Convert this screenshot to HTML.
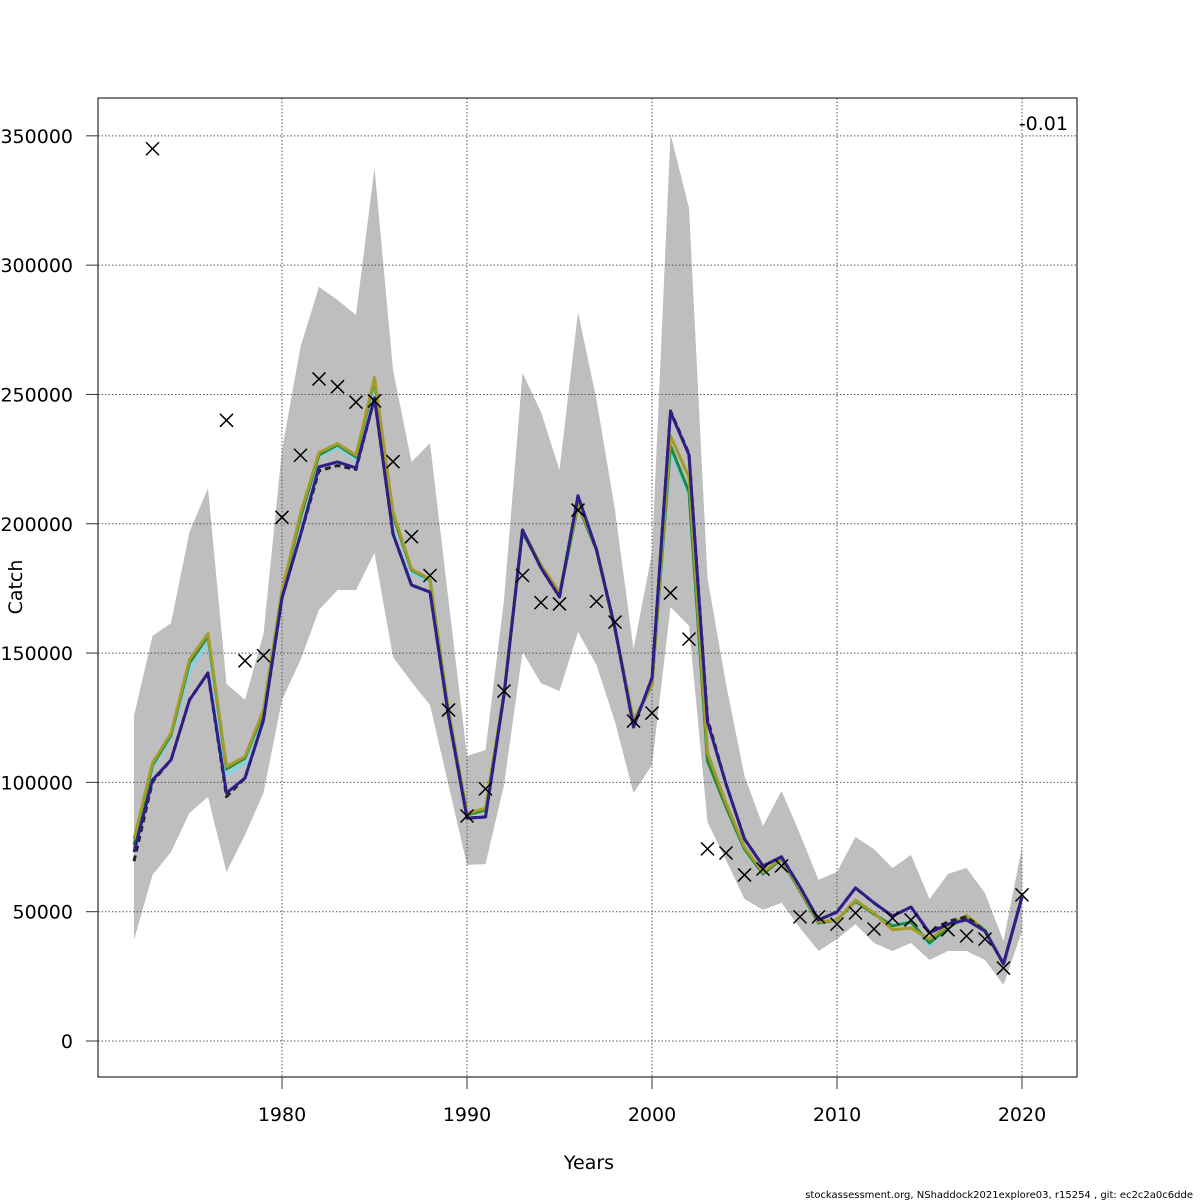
<!DOCTYPE html>
<html><head><meta charset="utf-8"><style>
html,body{margin:0;padding:0;background:#fff;}
svg{display:block;font-family:"DejaVu Sans","Liberation Sans",sans-serif;}
</style></head><body>
<svg id="chart" width="1200" height="1200" viewBox="0 0 1200 1200">
<g id="band"></g>
<g id="grid"></g>
<g id="lines"></g>
<g id="obs"></g>
<rect x="98" y="98" width="979" height="979" fill="none" stroke="#000" stroke-width="1"/>
<g id="axes"></g>
<text x="589" y="1169" font-size="19" text-anchor="middle">Years</text>
<text x="22" y="587" font-size="19" text-anchor="middle" transform="rotate(-90 22 587)">Catch</text>
<text x="1068" y="130" font-size="19" text-anchor="end">-0.01</text>
<text x="1193" y="1198" font-size="10" text-anchor="end">stockassessment.org, NShaddock2021explore03, r15254 , git: ec2c2a0c6dde</text>
</svg>
<script>
const years=[];for(let y=1972;y<=2020;y++)years.push(y);
const obsYears=[1973,1977,1978,1979,1980,1981,1982,1983,1984,1985,1986,1987,1988,1989,1990,1991,1992,1993,1994,1995,1996,1997,1998,1999,2000,2001,2002,2003,2004,2005,2006,2007,2008,2009,2010,2011,2012,2013,2014,2015,2016,2017,2018,2019,2020];
const obsVals=[345,240,147,149,202.5,226.5,256,253,247,247.5,224,195,180,128,87,97.5,135.3,180,169.5,169,205.3,170,162,123.7,126.8,173.2,155.4,74.3,72.7,64.2,66.5,67.7,48,48,45.2,49.5,43.3,47.5,46.8,41.8,43,40.6,39.4,28.2,56.5];
const upper=[125.7,156.6,161.6,196.8,213.8,138.1,131.9,157.4,228.5,268.4,291.6,286.5,280.7,337.6,259.5,223.9,231.2,170.5,110.2,112.5,170.5,258.3,243.2,220.8,281.9,247.9,205.3,151.6,188.7,350.7,322.1,179.0,138.1,102.5,83.1,96.7,80.0,62.3,65.4,78.9,74.2,66.9,71.9,54.9,64.6,66.9,57.2,38.7,75.0];
const lower=[39.1,64.2,73.1,88.2,94.4,65.4,79.7,95.9,131.9,147.3,166.7,174.4,174.4,188.7,148.5,138.8,129.9,99.0,68.1,68.4,99.0,150.4,138.4,135.3,158.2,145.4,123.4,95.9,106.7,167.8,160.5,84.7,70.0,54.9,50.7,53.4,43.7,34.8,39.4,45.2,37.9,34.8,37.9,31.3,34.8,34.8,31.3,21.7,42.5];
const blue=[73.1,100.9,108.7,131.9,142.3,95.9,101.7,124.1,171.3,195.7,222.0,223.9,221.6,248.6,196.1,176.3,173.6,125.7,86.2,86.6,133.8,197.6,182.9,171.7,210.8,189.9,159.7,121.4,140.4,243.2,226.6,123.4,99.4,78.1,67.7,71.2,59.6,46.8,49.9,59.2,53.4,48.3,51.8,41.8,45.2,46.8,42.5,29.8,55.7];
const black=[69.5,100.3,108.7,131.9,142.3,94.5,101.7,124.1,171.3,195.7,220.5,222.5,221.0,248.6,196.1,176.3,173.6,125.7,86.2,86.6,133.8,197.6,182.9,171.7,210.8,189.9,159.7,121.4,140.4,243.6,227.0,124.5,99.4,78.1,67.7,71.2,59.6,46.8,49.9,59.2,53.4,48.3,51.8,41.8,46.2,48.0,42.5,29.8,55.7];
const green=[75.8,106.7,118.3,146.2,156.6,105.2,109.4,127.2,173.6,202.6,226.6,230.5,225.8,255.6,203.4,182.1,178.3,127.2,87.4,89.3,133.8,196.8,183.3,172.5,206.9,189.9,158.9,123.4,137.7,230.1,212.3,108.3,90.5,74.2,64.6,70.4,58.0,45.6,46.8,54.1,49.1,44.5,46.0,37.9,43.7,48.3,42.9,29.8,55.7];
const cyan=[74.5,105.5,117.5,143.0,154.0,103.0,107.5,126.5,173.0,202.0,226.0,229.5,225.0,254.5,203.0,181.0,177.5,127.2,87.4,89.3,133.8,196.8,183.3,172.5,206.9,189.9,158.9,123.4,137.7,228.0,211.0,108.3,90.5,74.2,64.6,70.4,58.0,45.6,46.8,54.1,49.1,45.0,46.0,37.0,44.5,47.5,43.5,29.8,55.7];
const olive=[78.0,107.5,119.0,147.5,157.5,106.0,110.0,128.0,174.0,204.0,227.5,231.0,226.5,256.5,204.5,182.5,178.5,128.0,88.0,90.0,134.5,197.5,184.0,173.5,207.5,190.5,159.5,124.0,137.5,234.0,218.0,111.4,92.0,75.0,65.2,70.8,58.5,46.0,46.8,54.5,49.5,43.0,43.7,39.4,44.5,48.5,42.9,29.8,55.7];
const xTicks=[1980,1990,2000,2010,2020];
const yTicks=[0,50000,100000,150000,200000,250000,300000,350000];
const NS='http://www.w3.org/2000/svg';
const X=y=>282+(y-1980)*18.5;
const Y=v=>1041-v*0.0025862;
const K=v=>Y(v*1000);
function mk(t,a,p){const e=document.createElementNS(NS,t);for(const k in a)e.setAttribute(k,a[k]);p.appendChild(e);return e;}
// band
let pts=years.map((y,i)=>X(y)+','+K(upper[i]));
for(let i=years.length-1;i>=0;i--)pts.push(X(years[i])+','+K(lower[i]));
const poly=mk('polygon',{points:pts.join(' '),fill:'#bebebe',stroke:'none'},document.getElementById('band'));


// grid & axes
const grid=document.getElementById('grid'),axes=document.getElementById('axes');
xTicks.forEach(t=>{
 const l=mk('line',{x1:X(t),x2:X(t),y1:98,y2:1077,stroke:'#555','stroke-width':1,'stroke-dasharray':'1.5,2'},grid);
 
 
 const tk=mk('line',{x1:X(t),x2:X(t),y1:1077,y2:1089,stroke:'#333','stroke-width':1},axes);
 
 
 const tx=mk('text',{x:X(t),y:1121,'font-size':19,'text-anchor':'middle'},axes);
 tx.textContent=t;
 
 
});
yTicks.forEach(t=>{
 const l=mk('line',{x1:98,x2:1077,y1:Y(t),y2:Y(t),stroke:'#555','stroke-width':1,'stroke-dasharray':'1.5,2'},grid);
 
 
 const tk=mk('line',{x1:86,x2:98,y1:Y(t),y2:Y(t),stroke:'#333','stroke-width':1},axes);
 
 
 const tx=mk('text',{x:73,y:Y(t)+7,'font-size':19,'text-anchor':'end'},axes);
 tx.textContent=t;
 
 
});
// lines
const lines=document.getElementById('lines');
function line(arr,color,w,name,dash){
 const a={points:years.map((y,i)=>X(y)+','+K(arr[i])).join(' '),fill:'none',stroke:color,'stroke-width':w,'stroke-linejoin':'round'};
 if(dash)a['stroke-dasharray']=dash;
 const p=mk('polyline',a,lines);
 
 
}
line(cyan,'#7fd3e8',3,'series-cyan');
line(green,'#1e8a3a',3,'series-green');
line(olive,'#a39b2a',3,'series-olive');
line(black,'#222',3,'series-black-dashed','6,4');
line(blue,'#2e1f86',3,'series-blue');
// observations
const obs=document.getElementById('obs');
obsYears.forEach((y,i)=>{
 const cx=X(y),cy=K(obsVals[i]),s=6.5;
 const p=mk('path',{d:`M${cx-s},${cy-s}L${cx+s},${cy+s}M${cx-s},${cy+s}L${cx+s},${cy-s}`,stroke:'#000','stroke-width':1.5,fill:'none'},obs);
 
 
});
</script>
</body></html>
